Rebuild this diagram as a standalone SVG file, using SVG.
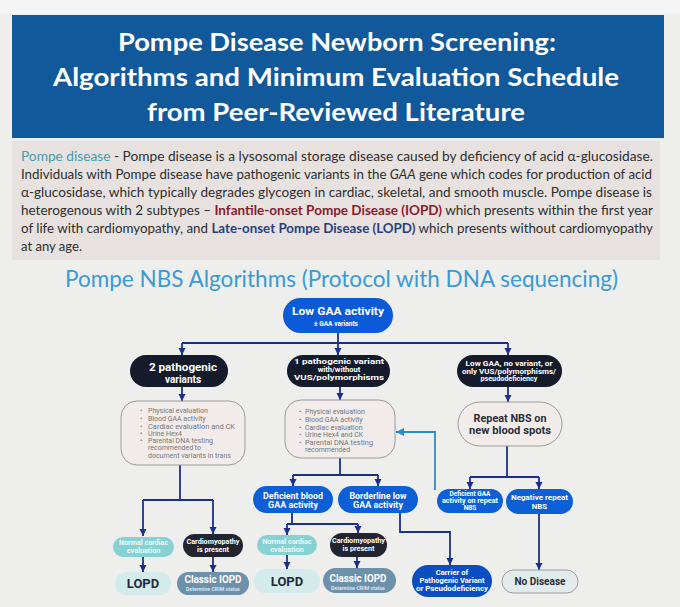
<svg xmlns="http://www.w3.org/2000/svg" width="680" height="607" viewBox="0 0 680 607">
<defs>
<marker id="ah" markerUnits="userSpaceOnUse" markerWidth="8" markerHeight="8" refX="7" refY="4" orient="auto">
<path d="M0,0.5 L7,4 L0,7.5 Z" fill="#1a2f8c"/>
</marker>
<marker id="ahl" markerUnits="userSpaceOnUse" markerWidth="9" markerHeight="9" refX="8" refY="4.5" orient="auto">
<path d="M0,0.5 L8,4.5 L0,8.5 Z" fill="#2b8bc7"/>
</marker>
<style>
.title{font-family:Lato,"Open Sans",sans-serif;font-weight:bold;font-size:25px;fill:#ffffff;text-anchor:middle}
.para{font-family:Lato,"Open Sans",sans-serif;font-size:12.6px;fill:#2e2e2e}
.head{font-family:Lato,"Open Sans",sans-serif;font-size:23px;fill:#3a9ad2}
.n{font-family:Roboto,Inter,"DejaVu Sans",sans-serif;text-anchor:middle;font-weight:bold}
.w{fill:#ffffff}
.d{fill:#2a2e38}
.bul{font-family:Roboto,Inter,"DejaVu Sans",sans-serif;font-size:7px;fill:#777777}
.c{fill:none;stroke:#1a2f8c;stroke-width:1.8}
.cl{fill:none;stroke:#2b8bc7;stroke-width:1.8}
.box{fill:#f1ecea;stroke:#9a9a9a;stroke-width:1}
.navy{fill:#161b2c}
.blue{fill:#0c5fd6}
</style>
</defs>
<rect x="0" y="0" width="680" height="607" fill="#eeeeec"/>
<rect x="0" y="0" width="680" height="14" fill="#f5f5f5"/>
<g id="header">
<rect x="12" y="15" width="652" height="123" fill="#11599a"/>
<text class="title" x="337" y="51" textLength="438" lengthAdjust="spacingAndGlyphs">Pompe Disease Newborn Screening:</text>
<text class="title" x="336" y="86" textLength="566" lengthAdjust="spacingAndGlyphs">Algorithms and Minimum Evaluation Schedule</text>
<text class="title" x="336" y="121" textLength="378" lengthAdjust="spacingAndGlyphs">from Peer-Reviewed Literature</text>
</g>
<g id="description">
<rect x="12" y="141" width="648" height="119" fill="#e7e2e0"/>
<text class="para" x="21" y="161" textLength="632" lengthAdjust="spacingAndGlyphs"><tspan fill="#4a9aaa">Pompe disease</tspan> - Pompe disease is a lysosomal storage disease caused by deficiency of acid α-glucosidase.</text>
<text class="para" x="21" y="179" textLength="631" lengthAdjust="spacingAndGlyphs">Individuals with Pompe disease have pathogenic variants in the <tspan font-style="italic">GAA</tspan> gene which codes for production of acid</text>
<text class="para" x="21" y="197" textLength="631" lengthAdjust="spacingAndGlyphs">α-glucosidase, which typically degrades glycogen in cardiac, skeletal, and smooth muscle. Pompe disease is</text>
<text class="para" x="21" y="215" textLength="632" lengthAdjust="spacingAndGlyphs">heterogenous with 2 subtypes – <tspan fill="#8b1a2b" font-weight="bold">Infantile-onset Pompe Disease (IOPD)</tspan> which presents within the first year</text>
<text class="para" x="21" y="233" textLength="632" lengthAdjust="spacingAndGlyphs">of life with cardiomyopathy, and <tspan fill="#2a3f7a" font-weight="bold">Late-onset Pompe Disease (LOPD)</tspan> which presents without cardiomyopathy</text>
<text class="para" x="21" y="251" textLength="61" lengthAdjust="spacingAndGlyphs">at any age.</text>
</g>
<text class="head" x="65" y="287" textLength="553" lengthAdjust="spacingAndGlyphs">Pompe NBS Algorithms (Protocol with DNA sequencing)</text>

<g id="connectors">
<path class="c" d="M338,333 V343"/>
<path class="c" d="M182,343 H508"/>
<path class="c" d="M182,343 V355" marker-end="url(#ah)"/>
<path class="c" d="M338,343 V355" marker-end="url(#ah)"/>
<path class="c" d="M508,343 V355" marker-end="url(#ah)"/>
<path class="c" d="M182,387 V401" marker-end="url(#ah)"/>
<path class="c" d="M340,387 V400" marker-end="url(#ah)"/>
<path class="c" d="M508,387 V402" marker-end="url(#ah)"/>
<path class="c" d="M180,465 V500 M143,500 H213"/>
<path class="c" d="M143,500 V536" marker-end="url(#ah)"/>
<path class="c" d="M213,500 V534" marker-end="url(#ah)"/>
<path class="c" d="M143,557 V572" marker-end="url(#ah)"/>
<path class="c" d="M213,557 V572" marker-end="url(#ah)"/>
<path class="c" d="M340,458 V475 M293,475 H378"/>
<path class="c" d="M293,475 V486" marker-end="url(#ah)"/>
<path class="c" d="M378,475 V486" marker-end="url(#ah)"/>
<path class="c" d="M292,513 V524 M287,524 H358"/>
<path class="c" d="M287,524 V535" marker-end="url(#ah)"/>
<path class="c" d="M358,524 V533" marker-end="url(#ah)"/>
<path class="c" d="M287,555 V569" marker-end="url(#ah)"/>
<path class="c" d="M357,557 V568" marker-end="url(#ah)"/>
<path class="c" d="M400,513 V532 H450 V565" marker-end="url(#ah)"/>
<path class="c" d="M507,446 V477 M470,477 H539"/>
<path class="c" d="M470,477 V489" marker-end="url(#ah)"/>
<path class="c" d="M539,477 V489" marker-end="url(#ah)"/>
<path class="c" d="M539,514 V570" marker-end="url(#ah)"/>
<path class="cl" d="M435,490 V432 H396" marker-end="url(#ahl)"/>
</g>

<g id="low-gaa">
<rect x="283" y="298" width="110" height="35" rx="17.5" fill="#0b5ad8"/>
<text class="n w" x="338" y="315" font-size="10.8" textLength="92" lengthAdjust="spacingAndGlyphs">Low GAA activity</text>
<text class="n w" x="336" y="326" font-size="6.6" font-weight="normal">± GAA variants</text>
</g>
<g id="two-pathogenic">
<rect x="130" y="355" width="98" height="32" rx="16" class="navy"/>
<text class="n w" x="183" y="371" font-size="10" textLength="68" lengthAdjust="spacingAndGlyphs">2 pathogenic</text>
<text class="n w" x="183" y="383" font-size="10">variants</text>
</g>
<g id="one-pathogenic">
<rect x="287" y="355" width="103" height="32" rx="16" class="navy"/>
<text class="n w" x="339" y="364" font-size="7.6" textLength="90" lengthAdjust="spacingAndGlyphs">1 pathogenic variant</text>
<text class="n w" x="339" y="372" font-size="7.6">with/without</text>
<text class="n w" x="339" y="380" font-size="7.6" textLength="90" lengthAdjust="spacingAndGlyphs">VUS/polymorphisms</text>
</g>
<g id="no-variant">
<rect x="457" y="355" width="105" height="32" rx="16" class="navy"/>
<text class="n w" x="509" y="366" font-size="7.2" textLength="87" lengthAdjust="spacingAndGlyphs">Low GAA, no variant, or</text>
<text class="n w" x="509" y="373.5" font-size="7.2" textLength="94" lengthAdjust="spacingAndGlyphs">only VUS/polymorphisms/</text>
<text class="n w" x="509" y="381" font-size="7.2">pseudodeficiency</text>
</g>
<g id="eval-left">
<rect x="121" y="401" width="124" height="64" rx="16" class="box"/>
<g class="bul">
<text x="140" y="413">•</text><text x="148" y="413">Physical evaluation</text>
<text x="140" y="421">•</text><text x="148" y="421">Blood GAA activity</text>
<text x="140" y="428.5">•</text><text x="148" y="428.5" textLength="87" lengthAdjust="spacingAndGlyphs">Cardiac evaluation and CK</text>
<text x="140" y="436">•</text><text x="148" y="436">Urine Hex4</text>
<text x="140" y="443">•</text><text x="148" y="443">Parental DNA testing</text>
<text x="148" y="450">recommended to</text>
<text x="148" y="457.5">document variants in trans</text>
</g>
</g>
<g id="eval-mid">
<rect x="285" y="400" width="110" height="58" rx="16" class="box"/>
<g class="bul">
<text x="299" y="414">•</text><text x="305" y="414">Physical evaluation</text>
<text x="299" y="422">•</text><text x="305" y="422">Blood GAA activity</text>
<text x="299" y="429.5">•</text><text x="305" y="429.5">Cardiac evaluation</text>
<text x="299" y="437">•</text><text x="305" y="437">Urine Hex4 and CK</text>
<text x="299" y="444.5">•</text><text x="305" y="444.5" textLength="68" lengthAdjust="spacingAndGlyphs">Parental DNA testing</text>
<text x="305" y="452">recommended</text>
</g>
</g>
<g id="repeat-nbs">
<rect x="458" y="402" width="104" height="44" rx="22" class="box"/>
<text class="n d" x="510" y="421.5" font-size="10" textLength="73" lengthAdjust="spacingAndGlyphs">Repeat NBS on</text>
<text class="n d" x="510" y="433.5" font-size="10" textLength="82" lengthAdjust="spacingAndGlyphs">new blood spots</text>
</g>
<g id="deficient-repeat">
<rect x="437" y="489" width="66" height="24" rx="12" class="blue"/>
<text class="n w" x="470" y="496" font-size="6.5">Deficient GAA</text>
<text class="n w" x="470" y="503" font-size="6.5" textLength="56" lengthAdjust="spacingAndGlyphs">activity on repeat</text>
<text class="n w" x="470" y="510" font-size="6.5">NBS</text>
</g>
<g id="negative-repeat">
<rect x="506" y="489" width="67" height="25" rx="12.5" class="blue"/>
<text class="n w" x="539.5" y="500" font-size="7.8" textLength="57" lengthAdjust="spacingAndGlyphs">Negative repeat</text>
<text class="n w" x="539.5" y="508.5" font-size="7.8">NBS</text>
</g>
<g id="deficient-blood">
<rect x="253" y="486" width="80" height="27" rx="13.5" class="blue"/>
<text class="n w" x="293" y="498.5" font-size="9" textLength="60" lengthAdjust="spacingAndGlyphs">Deficient blood</text>
<text class="n w" x="293" y="508" font-size="9">GAA activity</text>
</g>
<g id="borderline">
<rect x="338" y="486" width="80" height="27" rx="13.5" class="blue"/>
<text class="n w" x="378" y="498.5" font-size="9" textLength="57" lengthAdjust="spacingAndGlyphs">Borderline low</text>
<text class="n w" x="378" y="508" font-size="9">GAA activity</text>
</g>
<g id="normal-left">
<rect x="113" y="537" width="61" height="20" rx="10" fill="#86d2d3"/>
<text class="n" x="143.5" y="545" font-size="7.2" font-weight="normal" fill="#eefafa">Normal cardiac</text>
<text class="n" x="143.5" y="553" font-size="7.2" font-weight="normal" fill="#eefafa">evaluation</text>
</g>
<g id="cardio-left">
<rect x="183" y="534" width="60" height="23" rx="11.5" fill="#22252f"/>
<text class="n w" x="213" y="543.5" font-size="7.2" font-weight="normal">Cardiomyopathy</text>
<text class="n w" x="213" y="551.5" font-size="7.2" font-weight="normal">is present</text>
</g>
<g id="lopd-left">
<rect x="115" y="572" width="56" height="23" rx="11.5" fill="#d3ebeb"/>
<text class="n" x="143" y="588" font-size="13" fill="#1f2a3a">LOPD</text>
</g>
<g id="iopd-left">
<rect x="177" y="572" width="72" height="23" rx="11.5" fill="#6d90ab"/>
<text class="n w" x="213" y="583" font-size="10.5" textLength="57" lengthAdjust="spacingAndGlyphs">Classic IOPD</text>
<text class="n" x="213" y="590.5" font-size="5.2" font-weight="normal" fill="#d8e4ee">Determine CRIM status</text>
</g>
<g id="normal-mid">
<rect x="257" y="535" width="60" height="20" rx="10" fill="#86d2d3"/>
<text class="n" x="287" y="543.5" font-size="7.2" font-weight="normal" fill="#eefafa">Normal cardiac</text>
<text class="n" x="287" y="551.5" font-size="7.2" font-weight="normal" fill="#eefafa">evaluation</text>
</g>
<g id="cardio-mid">
<rect x="330" y="533" width="57" height="24" rx="12" fill="#22252f"/>
<text class="n w" x="358.5" y="543" font-size="7.2" font-weight="normal">Cardiomyopathy</text>
<text class="n w" x="358.5" y="551" font-size="7.2" font-weight="normal">is present</text>
</g>
<g id="lopd-mid">
<rect x="254" y="569" width="66" height="24" rx="12" fill="#d3ebeb"/>
<text class="n" x="287" y="586" font-size="13" fill="#1f2a3a">LOPD</text>
</g>
<g id="iopd-mid">
<rect x="323" y="568" width="73" height="25" rx="12.5" fill="#6d90ab"/>
<text class="n w" x="358" y="582" font-size="10.5" textLength="57" lengthAdjust="spacingAndGlyphs">Classic IOPD</text>
<text class="n" x="358" y="589.5" font-size="5.2" font-weight="normal" fill="#d8e4ee">Determine CRIM status</text>
</g>
<g id="carrier">
<rect x="412" y="565" width="80" height="32" rx="16" fill="#0b4ec2"/>
<text class="n w" x="452" y="575" font-size="7.6" font-weight="normal">Carrier of</text>
<text class="n w" x="452" y="583" font-size="7.6" font-weight="normal">Pathogenic Variant</text>
<text class="n w" x="452" y="591" font-size="7.6" font-weight="normal" textLength="72" lengthAdjust="spacingAndGlyphs">or Pseudodeficiency</text>
</g>
<g id="no-disease">
<rect x="502" y="570" width="76" height="23" rx="11.5" fill="#e3ecec" stroke="#9a9a9a" stroke-width="1"/>
<text class="n d" x="540" y="585" font-size="10" textLength="51" lengthAdjust="spacingAndGlyphs">No Disease</text>
</g>
</svg>
